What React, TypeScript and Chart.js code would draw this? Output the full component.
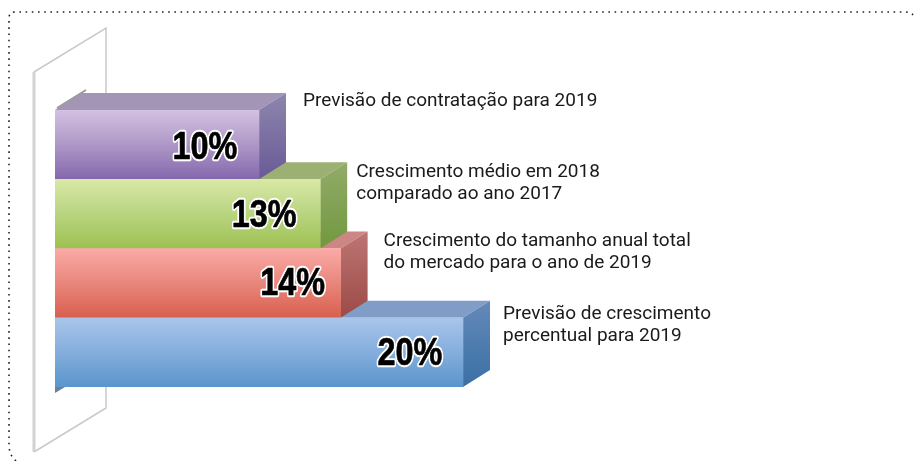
import React, { useEffect, useRef } from "react";
import { Chart, registerables } from "chart.js";

Chart.register(...registerables);

const categories = [
  ["Previsão de contratação para 2019"],
  ["Crescimento médio em 2018", "comparado ao ano 2017"],
  ["Crescimento do tamanho anual total", "do mercado para o ano de 2019"],
  ["Previsão de crescimento", "percentual para 2019"],
];
const values = [10, 13, 14, 20];
const frontTop = ["#d3c1e2", "#d9e8a6", "#fbaaa6", "#a9c5ea"];
const frontMid = ["#b29cc9", "#bcd684", "#ea8a80", "#88b0de"];
const frontBottom = ["#8468ad", "#9dc152", "#d95f4f", "#5a95cc"];
const topFace = ["#a295b6", "#9db074", "#cc8683", "#7f9dc6"];
const sideTop = ["#8d86ad", "#93ab69", "#bd7674", "#6489b8"];
const sideBottom = ["#6a5a96", "#71983f", "#9c4a46", "#3a70a6"];

const DEPTH_X = 27;
const DEPTH_Y = 17;
const labelGap = [17, 9, 16, 13];
const labelDrop = [-4, -2, -3, 1];
const valueShift = [-54, -56, -48, -53];
const valueDrop = [4, 2, 1, 2];

function bandOf(chart: any, i: number) {
  const y = chart.scales.y;
  const half = Math.abs(y.getPixelForValue(1) - y.getPixelForValue(0)) / 2;
  const c = y.getPixelForValue(i);
  return { top: c - half, bottom: c + half, center: c };
}

const backdrop = {
  id: "backdrop",
  beforeDatasetsDraw(chart: any) {
    const { ctx, chartArea } = chart;
    const xs = chart.scales.x;
    const x0 = xs.getPixelForValue(0);
    const t = chartArea.top;
    const b = chartArea.bottom;
    ctx.save();
    // dotted frame
    ctx.strokeStyle = "#222";
    ctx.lineWidth = 1.6;
    ctx.setLineDash([1.6, 4.6]);
    ctx.beginPath();
    ctx.moveTo(16, 461);
    ctx.quadraticCurveTo(9, 455, 9, 445);
    ctx.lineTo(9, 18);
    ctx.quadraticCurveTo(9, 12, 15, 12);
    ctx.lineTo(905, 12);
    ctx.quadraticCurveTo(912, 12, 916, 18);
    ctx.stroke();
    ctx.setLineDash([]);
    // back wall
    ctx.strokeStyle = "#c9c9c9";
    ctx.lineWidth = 1.5;
    ctx.beginPath();
    ctx.moveTo(34, t - 38);
    ctx.lineTo(106, t - 82);
    ctx.lineTo(106, t - 17);
    ctx.moveTo(106, b);
    ctx.lineTo(106, b + 21);
    ctx.lineTo(34, b + 65);
    ctx.stroke();
    ctx.strokeStyle = "#d2d2d2";
    ctx.lineWidth = 3;
    ctx.beginPath();
    ctx.moveTo(34, t - 38);
    ctx.lineTo(34, b + 65);
    ctx.stroke();
    // foot shadow
    ctx.fillStyle = "#6d7f96";
    ctx.beginPath();
    ctx.moveTo(x0, b);
    ctx.lineTo(x0, b + 6);
    ctx.lineTo(x0 + 10, b);
    ctx.closePath();
    ctx.fill();
    // 3D faces, nearest bar first
    for (let i = values.length - 1; i >= 0; i--) {
      const band = bandOf(chart, i);
      const xe = xs.getPixelForValue(values[i]);
      ctx.fillStyle = topFace[i];
      ctx.beginPath();
      ctx.moveTo(x0, band.top);
      ctx.lineTo(x0 + DEPTH_X, band.top - DEPTH_Y);
      ctx.lineTo(xe + DEPTH_X, band.top - DEPTH_Y);
      ctx.lineTo(xe, band.top);
      ctx.closePath();
      ctx.fill();
      const g = ctx.createLinearGradient(0, band.top - DEPTH_Y, 0, band.bottom);
      g.addColorStop(0, sideTop[i]);
      g.addColorStop(1, sideBottom[i]);
      ctx.fillStyle = g;
      ctx.beginPath();
      ctx.moveTo(xe, band.top);
      ctx.lineTo(xe + DEPTH_X, band.top - DEPTH_Y);
      ctx.lineTo(xe + DEPTH_X, band.bottom - DEPTH_Y);
      ctx.lineTo(xe, band.bottom);
      ctx.closePath();
      ctx.fill();
    }
    // grey edge where the top bar meets the wall
    const firstTop = bandOf(chart, 0).top;
    ctx.strokeStyle = "#999999";
    ctx.lineWidth = 2;
    ctx.beginPath();
    ctx.moveTo(x0 + 2, firstTop - 2);
    ctx.lineTo(x0 + DEPTH_X + 4, firstTop - DEPTH_Y - 3);
    ctx.stroke();
    ctx.restore();
  },
  afterDatasetsDraw(chart: any) {
    const { ctx } = chart;
    const xs = chart.scales.x;
    ctx.save();
    values.forEach((v, i) => {
      const band = bandOf(chart, i);
      const xe = xs.getPixelForValue(v);
      // value label
      ctx.save();
      ctx.translate(xe + valueShift[i], band.center + valueDrop[i]);
      ctx.scale(0.83, 1);
      ctx.font = "bold 39px 'Liberation Sans'";
      ctx.textAlign = "center";
      ctx.textBaseline = "middle";
      ctx.lineJoin = "round";
      ctx.lineWidth = 4.5;
      ctx.strokeStyle = "#ffffff";
      ctx.strokeText(`${v}%`, 0, 0);
      ctx.lineWidth = 0.7;
      ctx.strokeStyle = "#000000";
      ctx.fillStyle = "#000000";
      ctx.strokeText(`${v}%`, 0, 0);
      ctx.fillText(`${v}%`, 0, 0);
      ctx.restore();
      // description
      ctx.font = "19px Roboto";
      ctx.textAlign = "left";
      ctx.textBaseline = "alphabetic";
      ctx.fillStyle = "#1a1a1a";
      categories[i].forEach((line, k) => {
        ctx.fillText(line, xe + DEPTH_X + labelGap[i], band.top + labelDrop[i] + k * 22);
      });
    });
    ctx.restore();
  },
};

export default function App() {
  const ref = useRef<HTMLCanvasElement>(null);
  useEffect(() => {
    document.body.style.margin = "0";
    document.body.style.background = "#fff";
    const chart = new Chart(ref.current!, {
      type: "bar",
      data: {
        labels: categories.map((c) => c.join(" ")),
        datasets: [
          {
            data: values,
            barPercentage: 1,
            categoryPercentage: 1,
            borderWidth: 0,
            backgroundColor: (c: any) => {
              const area = c.chart.chartArea;
              if (!area || c.dataIndex === undefined) return frontMid[0];
              const band = bandOf(c.chart, c.dataIndex);
              const g = c.chart.ctx.createLinearGradient(0, band.top, 0, band.bottom);
              g.addColorStop(0, frontTop[c.dataIndex]);
              g.addColorStop(0.45, frontMid[c.dataIndex]);
              g.addColorStop(1, frontBottom[c.dataIndex]);
              return g;
            },
          },
        ],
      },
      options: {
        indexAxis: "y",
        animation: false,
        responsive: false,
        layout: { padding: { left: 55, right: 46, top: 110, bottom: 74 } },
        plugins: { legend: { display: false }, tooltip: { enabled: false } },
        scales: {
          x: { display: false, min: 0, max: 40 },
          y: { display: false },
        },
      },
      plugins: [backdrop],
    } as any);
    return () => chart.destroy();
  }, []);
  return <canvas ref={ref} width={917} height={461} style={{ display: "block" }} />;
}
